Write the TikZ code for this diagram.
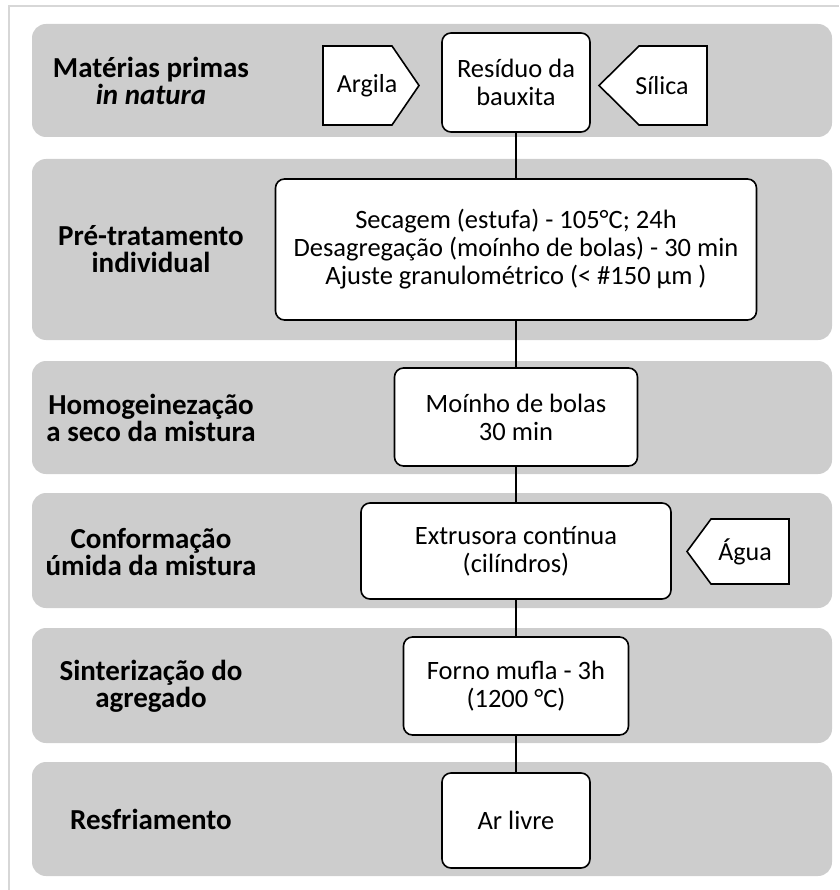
\documentclass[tikz,border=0pt]{standalone}
\usepackage{fontspec}
\setmainfont{Carlito}
\usepackage{tikz}
\tikzset{>=latex}
\definecolor{bandgray}{RGB}{205,205,205}
\definecolor{framegray}{RGB}{215,215,215}

\begin{document}
\begin{tikzpicture}[x=1pt, y=-1pt,
    band/.style={fill=bandgray, rounded corners=14pt},
    stagebox/.style={draw, line width=1.6pt, fill=white, rounded corners=9pt, align=center, inner sep=0pt, font=\fontsize{26.5}{28}\selectfont},
    stagetitle/.style={align=center, font=\fontsize{29}{27}\selectfont\bfseries},
    inputbox/.style={draw, line width=1.6pt, fill=white},
    inputtext/.style={font=\fontsize{26}{28}\selectfont}]
    \useasboundingbox (0, 0) rectangle (839, 890);
    \draw[framegray, line width=1.8pt](9, 890)--(9, 6)--(839, 6);
    % faixas das etapas
    \fill[band](32, 24)rectangle(832, 137);
    \fill[band](32, 159)rectangle(832, 340);
    \fill[band](32, 361)rectangle(832, 474);
    \fill[band](32, 493)rectangle(832, 608);
    \fill[band](32, 628)rectangle(832, 743);
    \fill[band](32, 762)rectangle(832, 876);
    % titulos
    \node[stagetitle] (materias) at (151, 80.5) {Matérias primas\\\textit{in natura}};
    \node[stagetitle] (pretrat) at (151, 249.5) {Pré-tratamento\\individual};
    \node[stagetitle] (homog) at (151, 417.5) {Homogeinezação\\a seco da mistura};
    \node[stagetitle] (conform) at (151, 552) {Conformação\\úmida da mistura};
    \node[stagetitle] (sinter) at (151, 686) {Sinterização do\\agregado};
    \node[stagetitle] (resfr) at (151, 819) {Resfriamento};
    % caixas do processo
    \node[stagebox, minimum width=148pt, minimum height=99pt] (residuo) at (516, 82.5) {Resíduo da\\bauxita};
    \node[stagebox, minimum width=481pt, minimum height=141pt] (secagem) at (516, 249.5)
        {Secagem (estufa) - 105°C; 24h\\Desagregação (moínho de bolas) - 30 min\\Ajuste granulométrico (< \#150 µm )};
    \node[stagebox, minimum width=243pt, minimum height=98pt] (moinho) at (516, 417) {Moínho de bolas\\30 min};
    \node[stagebox, minimum width=310pt, minimum height=96pt] (extrusora) at (516, 551) {Extrusora contínua\\(cilíndros)};
    \node[stagebox, minimum width=225pt, minimum height=98pt] (forno) at (516, 686) {Forno mufla - 3h\\(1200 °C)};
    \node[stagebox, minimum width=148pt, minimum height=95pt] (arlivre) at (516, 820.5) {Ar livre};
    \draw[line width=1.3pt](residuo)--(secagem)--(moinho)--(extrusora)--(forno)--(arlivre);
    % entradas
    \draw[inputbox](323, 46)--(392, 46)--(419, 85.5)--(392, 125)--(323, 125)--cycle;
    \node[inputtext] (argila) at (367, 85.5) {Argila};
    \draw[inputbox](599, 85.5)--(639, 46)--(707, 46)--(707, 125)--(639, 125)--cycle;
    \node[inputtext] (silica) at (662, 85.5) {Sílica};
    \draw[inputbox](687, 551.5)--(711, 519)--(789, 519)--(789, 584)--(711, 584)--cycle;
    \node[inputtext] (agua) at (745, 551.5) {Água};
\end{tikzpicture}
\end{document}
